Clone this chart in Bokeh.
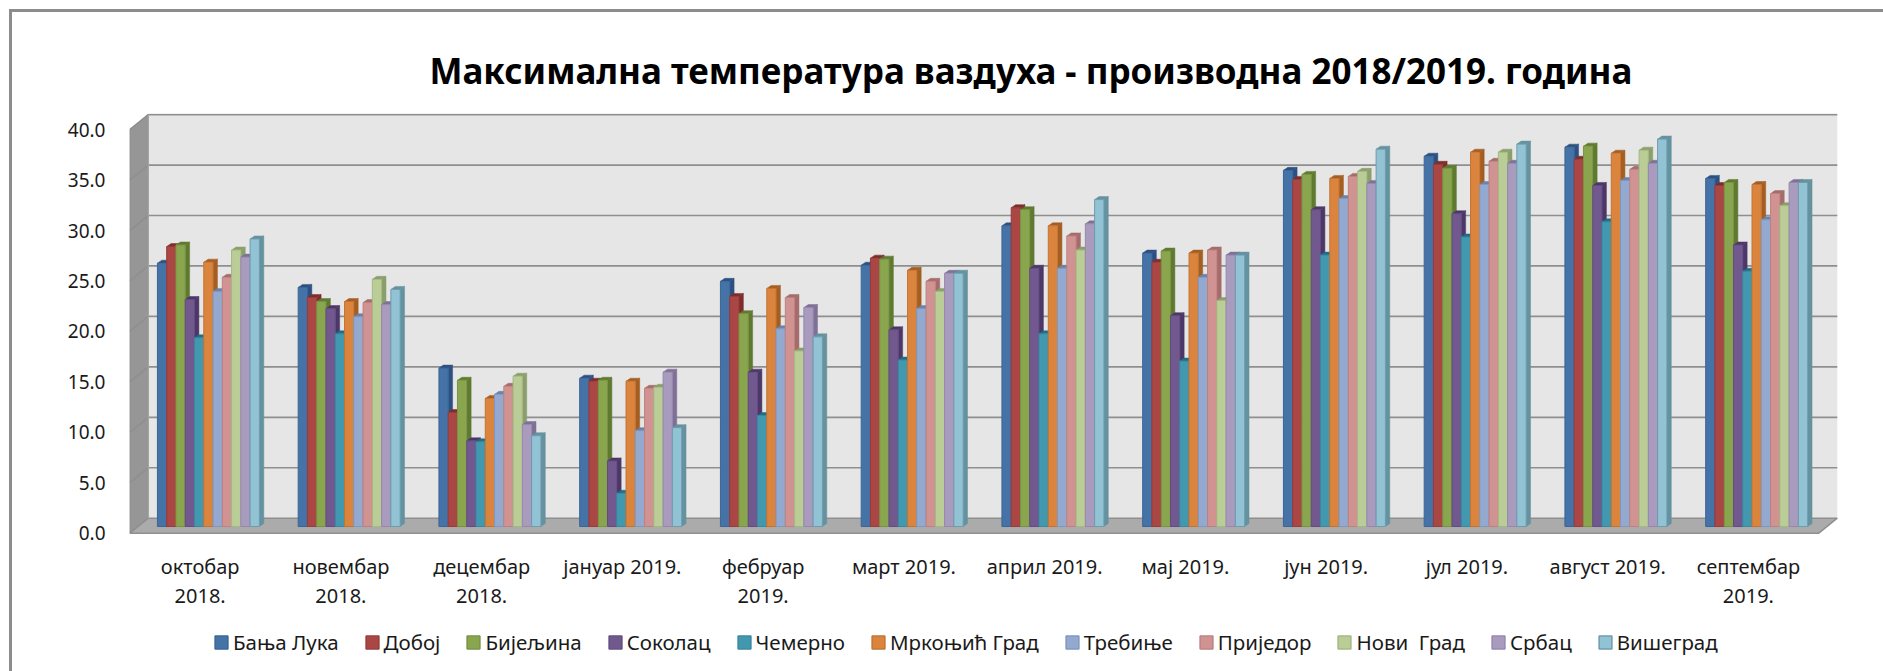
import numpy as np
from bokeh.plotting import figure
from bokeh.layouts import column
from bokeh.models import Range1d, FixedTicker, Legend, LegendItem, Title, ColumnDataSource
from bokeh.embed import file_html
from bokeh.resources import INLINE

title_text = "Максимална температура ваздуха - производна 2018/2019. година"
months = ["октобар\n2018.", "новембар\n2018.", "децембар\n2018.", "јануар 2019.", "фебруар\n2019.", "март 2019.",
          "април 2019.", "мај 2019.", "јун 2019.", "јул 2019.", "август 2019.", "септембар\n2019."]
y_ticks = [0, 5, 10, 15, 20, 25, 30, 35, 40]

banja_luka = [26.1, 23.7, 15.7, 14.7, 24.3, 25.9, 29.8, 27.1, 35.3, 36.7, 37.6, 34.5]
doboj      = [27.75, 22.7, 11.3, 14.4, 22.8, 26.6, 31.6, 26.2, 34.4, 35.9, 36.4, 33.8]
bijeljina  = [27.9, 22.3, 14.5, 14.5, 21.1, 26.5, 31.4, 27.3, 34.9, 35.5, 37.7, 34.1]
sokolac    = [22.5, 21.6, 8.5, 6.5, 15.3, 19.5, 25.6, 20.9, 31.4, 31.0, 33.8, 27.9]
cemerno    = [18.7, 19.1, 8.4, 3.3, 11.0, 16.5, 19.1, 16.4, 26.9, 28.7, 30.2, 25.3]
mrkonjic   = [26.2, 22.3, 12.7, 14.4, 23.6, 25.4, 29.8, 27.1, 34.5, 37.1, 37.0, 33.9]
trebinje   = [23.3, 20.8, 13.1, 9.5, 19.6, 21.6, 25.6, 24.7, 32.5, 33.9, 34.3, 30.4]
prijedor   = [24.7, 22.2, 13.9, 13.7, 22.7, 24.3, 28.8, 27.4, 34.7, 36.2, 35.4, 33.0]
novi_grad  = [27.4, 24.5, 14.9, 13.8, 17.4, 23.3, 27.4, 22.4, 35.2, 37.1, 37.3, 31.8]
srbac      = [26.7, 22.0, 10.1, 15.3, 21.7, 25.1, 30.0, 26.9, 34.0, 36.0, 36.0, 34.1]
visegrad   = [28.5, 23.5, 9.0, 9.8, 18.8, 25.1, 32.4, 26.9, 37.4, 37.9, 38.4, 34.1]

names = ["Бања Лука", "Добој", "Бијељина", "Соколац", "Чемерно", "Мркоњић Град", "Требиње",
         "Приједор", "Нови  Град", "Србац", "Вишеград"]
series = [banja_luka, doboj, bijeljina, sokolac, cemerno, mrkonjic, trebinje, prijedor, novi_grad, srbac, visegrad]
front = ["#4573a7", "#aa4644", "#89a54e", "#71588f", "#4298af", "#db843d", "#93a9d0", "#d09392", "#bacd96", "#a99bbe", "#92c3d5"]
side = ["#2d5082", "#7f2d2b", "#5f7a30", "#4c3768", "#1f6f88", "#a45e22", "#6b83ac", "#a56c6b", "#8b9f6c", "#7f7098", "#64929f"]
edge = ["#3a6595", "#973c3a", "#799343", "#634d7f", "#38889e", "#c47434", "#8098be", "#bc8281", "#a5b883", "#9688ab", "#6e9cad"]

FONT = "Noto Sans"
ORIGIN = 12            # the canvas starts here, inside the chart's own top and left border
W = 1883 - ORIGIN
H_CHART = 608          # figure with the bars
H_LEGEND = 51          # figure that holds the legend row
PX_X = 140.75          # pixels per category
PX_Y = 10.09           # pixels per value unit
left_px, right_px = 129.0, 1838.0
top_px, bottom_px = 113.0, 536.0

depth_x, depth_y = 18.5 / PX_X, 15.0 / PX_Y      # wall depth
base_fx = 0.445                                    # bars stand this far into the floor
bx, by = depth_x * base_fx, depth_y * base_fx
bw = 9.27 / PX_X
sx, sy = 4.4 / PX_X, 3.0 / PX_Y
n = len(months)

p = figure(width=W, height=H_CHART, output_backend="svg", toolbar_location=None,
           x_range=Range1d((left_px - 129.3) / PX_X, (right_px - 129.3) / PX_X),
           y_range=Range1d((532.7 - bottom_px) / PX_Y, (532.7 - top_px) / PX_Y),
           min_border_left=int(left_px - ORIGIN), min_border_right=int(W + ORIGIN - right_px),
           min_border_top=int(top_px - ORIGIN), min_border_bottom=int(H_CHART + ORIGIN - bottom_px))
p.outline_line_color = None
p.background_fill_color = None
p.grid.visible = False

# walls
wall = "#e6e6e6"; line = "#8f8f8f"
p.patch([depth_x, n + depth_x, n + depth_x, depth_x], [depth_y, depth_y, 40 + depth_y, 40 + depth_y], color=wall, line_width=0)
p.patch([0, depth_x, depth_x, 0], [0, depth_y, 40 + depth_y, 40], fill_color="#969696", line_color="#8a8a8a", line_width=1)
p.patch([0, n, n + depth_x, depth_x], [0, 0, depth_y, depth_y], fill_color="#ababab", line_color="#8f8f8f", line_width=1.5)
p.multi_line([[0, depth_x, n + depth_x] for v in y_ticks[1:]],
             [[v, v + depth_y, v + depth_y] for v in y_ticks[1:]], line_color=line, line_width=1.7)
p.line([depth_x, depth_x], [depth_y, 40 + depth_y], line_color="#a8a8a8", line_width=1)

# bars
for s, vals in enumerate(series):
    xs = np.arange(n) + 0.5 + bx + (s - 5) * bw
    tops = np.array(vals) + by
    xl, xr = xs - bw / 2, xs + bw / 2
    p.patches([[r, r + sx, r + sx, r] for r in xr],
              [[by, by + sy, t + sy, t] for t in tops],
              fill_color=side[s], line_color=side[s], line_width=0.5)
    p.patches([[l, l + sx, r + sx, r] for l, r in zip(xl, xr)],
              [[t, t + sy, t + sy, t] for t in tops],
              fill_color=side[s], line_color=side[s], line_width=0.5)
    src = ColumnDataSource(dict(x=xs, top=tops, bottom=np.full(n, by)))
    p.vbar(x="x", top="top", bottom="bottom", width=bw, source=src,
           fill_color=front[s], line_color=edge[s], line_width=1)

# axes
p.xaxis.ticker = FixedTicker(ticks=[i + 0.5 for i in range(n)])
p.xaxis.major_label_overrides = {i + 0.5: months[i] for i in range(n)}
p.xaxis.major_label_text_font = FONT
p.xaxis.major_label_text_font_size = "20px"
p.xaxis.major_label_text_color = "#1a1a1a"
p.xaxis.major_label_text_line_height = 1.1
p.xaxis.major_label_standoff = 10
p.xaxis.axis_line_color = None
p.xaxis.major_tick_line_color = None
p.xaxis.minor_tick_line_color = None

p.yaxis.ticker = FixedTicker(ticks=y_ticks)
p.yaxis.major_label_overrides = {v: f"{v:.1f}" for v in y_ticks}
p.yaxis.major_label_text_font = FONT
p.yaxis.major_label_text_font_size = "19px"
p.yaxis.major_label_text_color = "#1a1a1a"
p.yaxis.major_label_standoff = 18
p.yaxis.axis_line_color = None
p.yaxis.major_tick_line_color = None
p.yaxis.minor_tick_line_color = None

# title
p.title = Title(text=title_text, text_font=FONT, text_font_size="35px", text_font_style="bold",
                text_color="#000000", align="left", offset=300, standoff=39)

# legend row, held by a figure of its own under the chart; its key bars hold no drawable value
q = figure(width=W, height=H_LEGEND, output_backend="svg", toolbar_location=None,
           x_axis_location=None, y_axis_location=None, min_border=0,
           x_range=Range1d(0, 1), y_range=Range1d(0, 1))
q.outline_line_color = None
q.grid.visible = False
items = []
nan = float("nan")
for s in range(len(series)):
    r = q.vbar(x=[nan], top=[nan], bottom=[nan], width=0.1, fill_color=front[s], line_color=edge[s], line_width=1.5)
    items.append(LegendItem(label=names[s], renderers=[r]))
legend = Legend(items=items, orientation="horizontal", location=(84, 15), padding=0, margin=0,
                spacing=25, glyph_width=16, glyph_height=16, label_standoff=4,
                label_text_font=FONT, label_text_font_size="20.5px", label_text_color="#1a1a1a",
                background_fill_alpha=0, border_line_color=None, label_height=20)
q.add_layout(legend, "center")

page = column(p, q, spacing=0, margin=(ORIGIN - 3, 0, 0, ORIGIN - 3),
              styles={"border-top": "3px solid #8c8c8c", "border-left": "3px solid #8c8c8c"})
open("out.html", "w").write(file_html(page, INLINE))
